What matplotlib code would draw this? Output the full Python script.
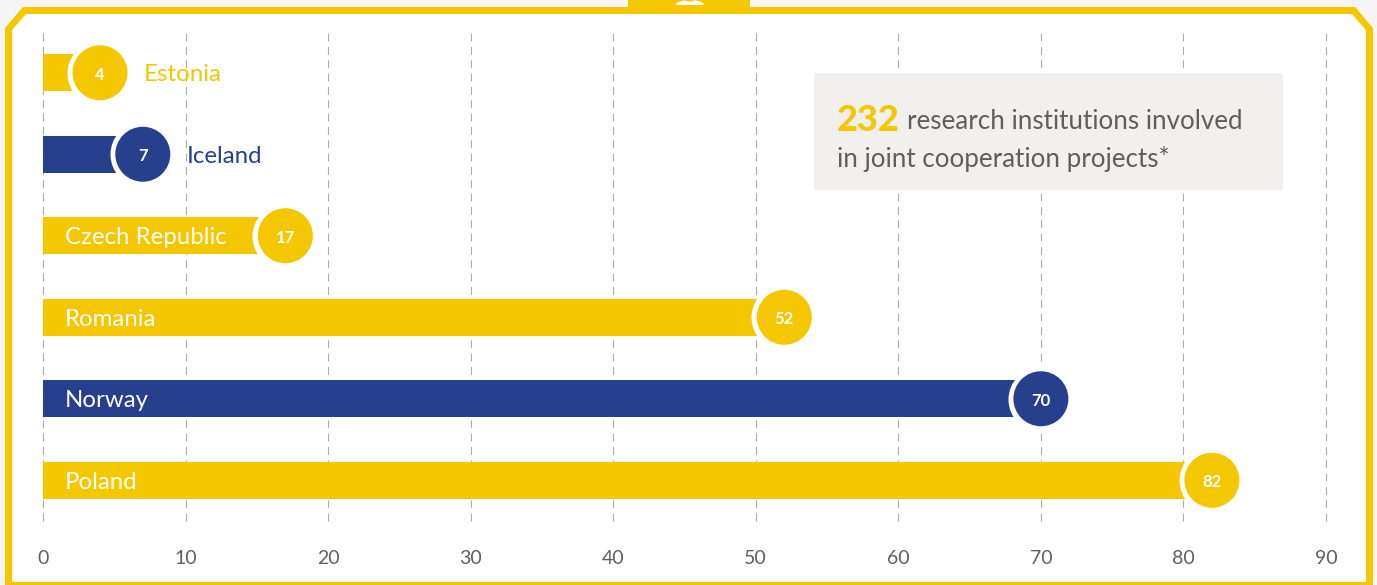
import matplotlib
matplotlib.use("Agg")
import matplotlib.pyplot as plt
from matplotlib.patches import Polygon, Rectangle, Ellipse

plt.rcParams['font.family'] = ['Lato', 'DejaVu Sans']

countries = ["Estonia", "Iceland", "Czech Republic", "Romania", "Norway", "Poland"]
values = [4, 7, 17, 52, 70, 82]
color_keys = ["y", "b", "y", "y", "b", "y"]
inside = [False, False, True, True, True, True]
xticks = [0, 10, 20, 30, 40, 50, 60, 70, 80, 90]

YEL = "#f5c700"
BLU = "#26408e"
GREY = "#5f5f5d"
cmap = {"y": YEL, "b": BLU}

W, H = 1377, 585
PT = 72 / 100  # points per pixel at dpi=100
fig = plt.figure(figsize=(W / 100, H / 100), dpi=100, facecolor="#f5f5f5")

deco = fig.add_axes([0, 0, 1, 1], zorder=0)
deco.set_xlim(0, W)
deco.set_ylim(H, 0)
deco.axis("off")
deco.add_patch(Polygon([(23, 7), (1355, 7), (1373, 28), (1373, 590), (5, 590), (5, 28)],
                       closed=True, fc=YEL, ec="none"))
deco.add_patch(Polygon([(26, 14), (1352, 14), (1366, 30), (1366, 582), (12, 582), (12, 30)],
                       closed=True, fc="white", ec="none"))
deco.add_patch(Rectangle((628, 0), 122, 10, fc=YEL, ec="none"))
deco.add_patch(Ellipse((690, 5), 28, 10, fc="white", ec="none"))
deco.add_patch(Rectangle((670, 5), 40, 6, fc=YEL, ec="none"))
deco.add_patch(Ellipse((690, -1), 10, 5, fc=YEL, ec="none"))

ax = fig.add_axes([43 / W, (H - 521) / H, 1283 / W, 489 / H], zorder=1)
ax.patch.set_alpha(0)
ax.set_xlim(0, 90)
ax.set_ylim(5.5, -0.5)
for s in ax.spines.values():
    s.set_visible(False)
ax.set_yticks([])
ax.set_xticks(xticks)
ax.set_xticklabels([str(t) for t in xticks], fontsize=14, color=GREY)
ax.tick_params(axis="x", length=0, pad=21)
ax.set_axisbelow(True)
ax.grid(axis="x", color="#aaaaaa", lw=0.8, ls=(0, (7, 5)))
for gl in ax.get_xgridlines():
    gl.set_clip_on(False)

ypos = list(range(len(countries)))
colors = [cmap[k] for k in color_keys]
ax.barh(ypos, values, height=37 / 81.5, color=colors, zorder=2)

D = 55 * PT
RING = 66 * PT
ax.scatter(values, ypos, s=RING ** 2, color="white", lw=0, zorder=3, clip_on=False)
ax.scatter(values, ypos, s=D ** 2, color=colors, lw=0, zorder=4, clip_on=False)

DY = -2 * PT
for y, v, c, name, ins in zip(ypos, values, colors, countries, inside):
    ax.annotate(str(v), xy=(v, y), xytext=(0, DY), textcoords="offset points",
                color="white", fontsize=12, fontweight="bold",
                ha="center", va="center", zorder=5)
    if ins:
        ax.annotate(name, xy=(0, y), xytext=(22 * PT, DY), textcoords="offset points",
                    color="white", fontsize=17.3, ha="left", va="center", zorder=5)
    else:
        ax.annotate(name, xy=(v, y), xytext=(44 * PT, DY), textcoords="offset points",
                    color=c, fontsize=17.3, ha="left", va="center", zorder=5)

tr = deco.transData
ax.add_patch(Rectangle((814, 73), 469, 117, fc="#f1f0ee", ec="none", transform=tr, zorder=6, clip_on=False))
ax.text(837, 131, "232", color=YEL, fontsize=26, fontweight="black", ha="left", va="baseline",
        transform=tr, zorder=7)
ax.text(907, 129, "research institutions involved", color=GREY, fontsize=18.7, ha="left",
        va="baseline", transform=tr, zorder=7)
ax.text(837, 167, "in joint cooperation projects*", color=GREY, fontsize=18.7, ha="left",
        va="baseline", transform=tr, zorder=7)

fig.savefig("out.png", dpi=100, facecolor=fig.get_facecolor())
